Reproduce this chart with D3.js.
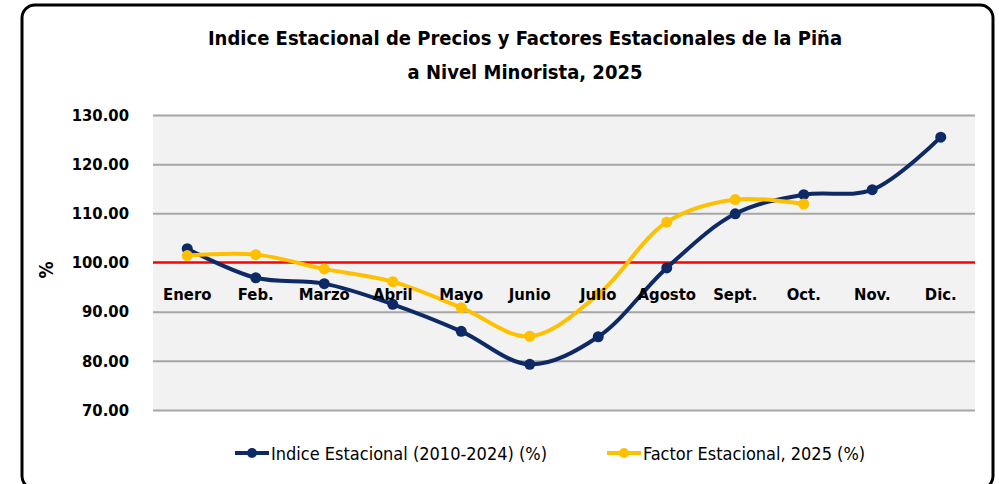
<!DOCTYPE html>
<html>
<head>
<meta charset="utf-8">
<script src="https://cdn.jsdelivr.net/npm/d3@7"></script>
<style>
  body { margin: 0; background: #fff; }
  text { font-family: "Liberation Sans Narrow", "Arial Narrow", "DejaVu Sans Condensed", sans-serif; fill: #000; }
</style>
</head>
<body>
<div id="chart"></div>
<script>
var months = ["Enero", "Feb.", "Marzo", "Abril", "Mayo", "Junio", "Julio", "Agosto", "Sept.", "Oct.", "Nov.", "Dic."];
var indice = [102.8, 96.9, 95.7, 91.5, 86.0, 79.3, 84.9, 98.9, 109.9, 113.8, 114.8, 125.5];
var factor = [101.4, 101.6, 98.7, 96.1, 90.8, 85.0, 93.5, 108.2, 112.8, 111.9];
var yTicks = [70, 80, 90, 100, 110, 120, 130];
var seriesNames = ["Indice Estacional (2010-2024) (%)", "Factor Estacional, 2025 (%)"];

var svgWidth = 999;
var svgHeight = 484;

var plot = { left: 153, right: 975, top: 115, bottom: 410 };

var svg = d3.select("#chart")
    .append("svg")
    .attr("width", svgWidth)
    .attr("height", svgHeight);

// rounded frame
svg.append("rect")
    .attr("x", 22).attr("y", 5)
    .attr("width", 971).attr("height", 484)
    .attr("rx", 13)
    .attr("fill", "#fff")
    .attr("stroke", "#000")
    .attr("stroke-width", 3);

// title
var title = svg.append("text")
    .attr("text-anchor", "middle")
    .attr("font-weight", "bold")
    .attr("font-size", 20);
title.append("tspan").attr("x", 525).attr("y", 45).text("Indice Estacional de Precios y Factores Estacionales de la Piña");
title.append("tspan").attr("x", 525).attr("y", 79).text("a Nivel Minorista, 2025");

var x = d3.scaleBand()
    .domain(months)
    .range([plot.left, plot.right]);

var y = d3.scaleLinear()
    .domain([70, 130])
    .range([plot.bottom, plot.top]);

svg.append("rect")
    .attr("x", plot.left).attr("y", plot.top)
    .attr("width", plot.right - plot.left)
    .attr("height", plot.bottom - plot.top)
    .attr("fill", "#f2f2f2");

var leftAxis = d3.axisLeft(y)
    .tickValues(yTicks)
    .tickSize(-(plot.right - plot.left))
    .tickPadding(24)
    .tickFormat(d3.format(".2f"));

var yAxis = svg.append("g")
    .attr("transform", `translate(${plot.left}, 0)`)
    .call(leftAxis);
yAxis.select(".domain").remove();
yAxis.selectAll(".tick line")
    .attr("stroke", d => d === 100 ? "none" : "#a6a6a6")
    .attr("stroke-width", 2);
yAxis.selectAll(".tick text")
    .attr("font-size", 16.5)
    .attr("font-weight", "bold")
    .attr("fill", "#000")
    .style("font-family", null);

svg.append("text")
    .attr("transform", `translate(53, 270) rotate(-90)`)
    .attr("text-anchor", "middle")
    .attr("font-size", 19)
    .attr("font-weight", "bold")
    .text("%");

// horizontal axis crossing at 100
svg.append("line")
    .attr("x1", plot.left).attr("x2", plot.right)
    .attr("y1", y(100)).attr("y2", y(100))
    .attr("stroke", "#ff0000")
    .attr("stroke-width", 2.5);

var cx = d => x(d) + x.bandwidth() / 2;

var line = d3.line()
    .x((d, i) => cx(months[i]))
    .y(d => y(d))
    .curve(d3.curveCatmullRom.alpha(0.5));

function drawSeries(values, color) {
    svg.append("path")
        .datum(values)
        .attr("d", line)
        .attr("fill", "none")
        .attr("stroke", color)
        .attr("stroke-width", 4)
        .attr("stroke-linecap", "round");
    svg.append("g").selectAll("circle")
        .data(values)
        .enter()
        .append("circle")
        .attr("cx", (d, i) => cx(months[i]))
        .attr("cy", d => y(d))
        .attr("r", 5.5)
        .attr("fill", color);
}

drawSeries(indice, "#0d2a66");
drawSeries(factor, "#ffc000");

// category labels below the red axis
svg.append("g").selectAll("text")
    .data(months)
    .enter()
    .append("text")
    .attr("x", d => cx(d))
    .attr("y", y(100) + 37)
    .attr("text-anchor", "middle")
    .attr("font-size", 16.5)
    .attr("font-weight", "bold")
    .text(d => d);

// legend
var legend = [
    { name: seriesNames[0], color: "#0d2a66", x: 235 },
    { name: seriesNames[1], color: "#ffc000", x: 607 }
];
var lg = svg.append("g").selectAll("g")
    .data(legend)
    .enter()
    .append("g")
    .attr("transform", d => `translate(${d.x}, 453)`);
lg.append("line")
    .attr("x1", 0).attr("x2", 34)
    .attr("stroke", d => d.color)
    .attr("stroke-width", 4);
lg.append("circle")
    .attr("cx", 17)
    .attr("r", 5)
    .attr("fill", d => d.color);
lg.append("text")
    .attr("x", 36)
    .attr("y", 6.5)
    .attr("font-size", 18)
    .text(d => d.name);
</script>
</body>
</html>
